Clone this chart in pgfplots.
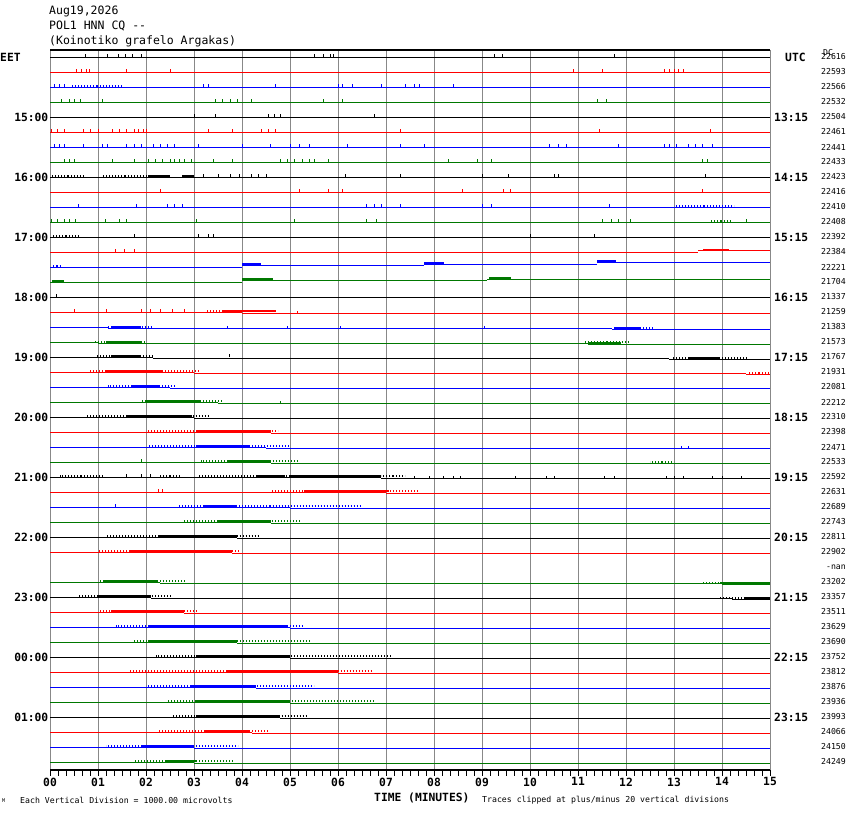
\documentclass[border=0pt]{standalone}
\usepackage{fontspec}
\setmainfont{DejaVu Sans Mono}
\usepackage{pgfplots}
\usepackage{pgfplotstable}
\pgfplotsset{compat=1.18}

\definecolor{hred}{RGB}{255,0,0}
\definecolor{hblue}{RGB}{0,0,255}
\definecolor{hgreen}{RGB}{0,120,0}
\definecolor{hgrid}{RGB}{136,136,136}

\newcommand\lab{\fontsize{11.3}{13}\selectfont\bfseries}
\newcommand\ttl{\fontsize{11.5}{13}\selectfont}
\newcommand\sml{\fontsize{8.2}{10}\selectfont}

% horizontal segments: k a b  (trace, from minute, to minute)
\newcommand\band[4]{\addplot[draw=none, mark=none, forget plot,
  error bars/.cd, x dir=both, x explicit, error mark=none,
  error bar style={draw=#1, #2}]
  table[x expr={(\thisrow{a}+\thisrow{b})/2}, y expr={\thisrow{k}-#3},
        x error expr={(\thisrow{b}-\thisrow{a})/2}] {#4};}
% single spikes: k x
\newcommand\spikes[2]{\addplot[draw=none, mark=none, forget plot,
  error bars/.cd, y dir=minus, y fixed=0.17, error mark=none,
  error bar style={draw=#1, line width=1pt}] table[x=x, y=k] {#2};}

%---------------- black traces
\pgfplotstableread{
k a b
0 0 15
4 0 15
8 0 15
12 0 15
16 0 15
20 0 2.15
20.08 2.15 12.9
20.16 12.9 15
24 0 3.0
24.08 3.0 15
28 0 6.9
28.08 6.9 15
32 0 3.9
32.08 3.9 15
36 0 2.1
36.08 2.1 14.2
36.14 14.2 15
40 0 5.0
40.08 5.0 15
44 0 4.8
44.08 4.8 15
}\kbase
\pgfplotstableread{
k a b
8 0.04 0.7
8 1.07 2.05
12 0.04 0.63
20 0.97 2.15
20.16 12.95 14.55
24 0.78 3.3
28 0.2 1.1
28 2.3 2.7
28 3.1 5.0
28 6.9 7.4
32 1.17 4.36
36 0.58 2.55
36.14 13.95 15
40 2.2 7.1
44 2.55 5.35
}\ksparse
\pgfplotstableread{
k a b
8 2.05 2.5
8 2.75 3.0
20 1.27 1.9
20.16 13.3 13.95
24 1.6 2.95
28 4.3 4.9
28 5.0 6.9
32 2.25 3.9
36 0.97 2.1
36.14 14.45 15
40 3.04 5.0
44 3.04 4.8
}\kdense
\pgfplotstableread{
k x
0 0.73
0 1.2
0 1.42
0 1.57
0 1.72
0 1.9
0 5.5
0 5.7
0 5.85
0 5.9
0 9.25
0 9.42
0 11.75
4 3.0
4 3.45
4 4.56
4 4.68
4 4.8
4 6.75
8 3.2
8 3.5
8 3.75
8 3.95
8 4.2
8 4.35
8 4.5
8 6.15
8 7.3
8 9.0
8 9.55
8 10.5
8 10.6
8 13.65
12 1.75
12 3.1
12 3.3
12 3.4
12 10.0
12 11.35
16 0.14
20 3.73
28.08 7.6
28.08 7.9
28.08 8.2
28.08 8.4
28.08 8.55
28.08 9.7
28.08 10.35
28.08 10.5
28.08 11.55
28.08 11.75
28.08 12.85
28.08 13.0
28.08 13.2
28.08 13.8
28.08 14.0
28.08 14.4
28 1.6
28 1.9
28 2.1
}\kspk

%---------------- red traces
\pgfplotstableread{
k a b
1 0 15
5 0 15
9 0 15
13 0 13.5
12.93 13.5 15
17 0 4.0
17.1 4.0 15
21 0 3.0
21.08 3.0 14.5
21.15 14.5 15
25 0 4.6
25.1 4.6 15
29 0 7.0
29.08 7.0 15
33 0 3.8
33.08 3.8 15
37 0 2.8
37.08 2.8 15
41 0 6.0
41.08 6.0 15
45 0 4.2
45.08 4.2 15
}\rbase
\pgfplotstableread{
k a b
17 3.25 4.7
21 0.83 3.1
21.15 14.55 15
25 2.0 4.75
29 4.6 7.7
33 1.0 3.97
37 1.0 3.1
41 1.66 6.7
45 2.25 4.56
}\rsparse
\pgfplotstableread{
k a b
12.93 13.6 14.15
17 3.6 4.7
21 1.17 2.35
25 3.04 4.6
29 5.3 7.07
33 1.66 3.8
37 1.27 2.8
41 3.68 6.0
45 3.2 4.17
}\rdense
\pgfplotstableread{
k x
1 0.56
1 0.65
1 0.75
1 0.83
1 1.6
1 2.5
1 10.9
1 11.5
1 12.8
1 12.9
1 13.0
1 13.1
1 13.2
5 0.04
5 0.15
5 0.3
5 0.7
5 0.85
5 1.0
5 1.3
5 1.45
5 1.6
5 1.75
5 1.85
5 1.95
5 2.0
5 3.3
5 3.8
5 4.4
5 4.55
5 4.7
5 7.3
5 11.45
5 13.75
9 2.3
9 5.2
9 5.8
9 6.1
9 8.6
9 9.45
9 9.6
9 13.6
13 1.37
13 1.55
13 1.76
17 0.5
17 1.17
17 1.9
17 2.1
17 2.3
17 2.55
17 2.8
17.1 5.15
29 2.25
29 2.35
}\rspk

%---------------- blue traces
\pgfplotstableread{
k a b
2 0 15
6 0 15
10 0 15
14 0 4.0
13.9 4.0 7.8
13.8 7.8 11.4
13.7 11.4 15
18 0 1.2
18.08 1.2 11.7
18.15 11.7 15
22 0 2.5
22.08 2.5 15
26 0 4.5
26.08 4.5 15
30 0 5.0
30.08 5.0 15
38 0 5.0
38.08 5.0 15
42 0 4.3
42.08 4.3 15
46 0 3.0
46.08 3.0 15
}\bbase
\pgfplotstableread{
k a b
2 0.45 1.5
10 13.0 14.25
14 0.04 0.24
18.08 1.17 2.15
18.15 11.75 12.6
22 1.2 2.6
26 2.05 5.0
30 2.65 6.5
38 1.37 5.25
42 2.0 5.5
46 1.17 3.92
}\bsparse
\pgfplotstableread{
k a b
13.9 4.0 4.4
13.8 7.8 8.2
13.7 11.4 11.8
18.08 1.3 1.9
18.15 11.75 12.3
22 1.7 2.3
26 3.04 4.17
30 3.2 3.9
38 2.05 4.95
42 2.94 4.3
46 1.9 3.0
}\bdense
\pgfplotstableread{
k x
2 0.1
2 0.2
2 0.3
2 3.2
2 3.3
2 4.7
2 6.0
2 6.1
2 6.3
2 6.9
2 7.4
2 7.6
2 7.7
2 8.4
6 0.1
6 0.2
6 0.3
6 0.7
6 1.1
6 1.2
6 1.6
6 1.75
6 1.9
6 2.15
6 2.3
6 2.45
6 2.6
6 3.1
6 4.0
6 4.6
6 5.0
6 5.2
6 5.4
6 6.2
6 7.3
6 7.8
6 10.4
6 10.6
6 10.75
6 11.85
6 12.8
6 12.9
6 13.05
6 13.3
6 13.45
6 13.6
6 13.8
10 0.6
10 1.8
10 2.45
10 2.6
10 2.75
10 6.6
10 6.75
10 6.9
10 7.3
10 9.0
10 9.2
10 11.65
18.08 3.7
18.08 4.95
18.08 6.05
18.08 9.05
26.08 13.15
26.08 13.3
30 1.37
}\bspk

%---------------- green traces
\pgfplotstableread{
k a b
3 0 15
7 0 15
11 0 15
15 0 4.0
14.9 4.0 9.1
14.8 9.1 15
19 0 1.0
19.08 1.0 11.2
19.15 11.2 15
23 0 3.5
23.08 3.5 15
27 0 4.6
27.08 4.6 15
31 0 4.6
31.08 4.6 15
35 0 2.3
35.08 2.3 14.0
35.14 14.0 15
39 0 3.9
39.08 3.9 15
43 0 5.0
43.08 5.0 15
47 0 3.0
47.08 3.0 15
}\gbase
\pgfplotstableread{
k a b
11 13.75 14.2
19.08 0.92 2.0
19.08 11.15 12.05
23 1.9 3.6
27 3.14 5.15
27.08 12.5 13.0
31 2.8 5.2
35 1.0 2.85
35.14 13.6 15
39 1.76 5.4
43 2.45 6.77
47 1.76 3.83
}\gsparse
\pgfplotstableread{
k a b
15 0.04 0.3
14.9 4.0 4.65
14.8 9.15 9.6
19.08 1.17 1.9
19.15 11.2 11.9
23 2.0 3.15
27 3.68 4.6
31 3.5 4.6
35 1.12 2.25
35.14 13.95 15
39 2.05 3.92
43 3.04 5.0
47 2.4 3.04
}\gdense
\pgfplotstableread{
k x
3 0.24
3 0.4
3 0.5
3 0.63
3 1.1
3 3.45
3 3.6
3 3.75
3 3.9
3 4.2
3 5.7
3 6.1
3 11.4
3 11.6
7 0.3
7 0.4
7 0.5
7 1.3
7 1.75
7 2.05
7 2.2
7 2.35
7 2.5
7 2.6
7 2.7
7 2.8
7 2.95
7 3.4
7 3.8
7 4.8
7 4.95
7 5.1
7 5.25
7 5.4
7 5.5
7 5.8
7 8.3
7 8.9
7 9.2
7 13.6
7 13.7
11 0.04
11 0.15
11 0.3
11 0.4
11 0.53
11 1.15
11 1.45
11 1.6
11 3.05
11 5.1
11 6.6
11 6.8
11 11.5
11 11.7
11 11.85
11 12.1
11 14.5
23.08 4.8
27 1.9
}\gspk

\begin{document}
\begin{tikzpicture}[x=1pt, y=1pt]
\path[use as bounding box] (0,0) rectangle (850,814);
\begin{axis}[
  at={(50pt,44pt)}, anchor=south west,
  width=720pt, height=720pt, scale only axis,
  xmin=0, xmax=15, ymin=-0.4667, ymax=47.5333, y dir=reverse,
  xtick={0,...,15},
  xticklabels={00,01,02,03,04,05,06,07,08,09,10,11,12,13,14,15},
  minor x tick num=5,
  ytick=\empty,
  xtick pos=left, tick align=outside,
  major tick length=5.5pt, minor tick length=5.5pt,
  tick style={black, line width=0.8pt},
  xmajorgrids, major grid style={hgrid, line width=1pt},
  separate axis lines,
  x axis line style={black, line width=1.3pt},
  y axis line style={draw=none},
  xticklabel style={font=\lab, inner sep=0pt, yshift=-2pt},
]
\band{black}{line width=1pt}{0}{\kbase}
\band{hred}{line width=1pt}{0}{\rbase}
\band{hblue}{line width=1pt}{0}{\bbase}
\band{hgreen}{line width=1pt}{0}{\gbase}

\band{black}{line width=2pt, dash pattern=on 0.8pt off 2.2pt}{0.1}{\ksparse}
\band{hred}{line width=2pt, dash pattern=on 0.8pt off 2.2pt}{0.1}{\rsparse}
\band{hblue}{line width=2pt, dash pattern=on 0.8pt off 2.2pt}{0.1}{\bsparse}
\band{hgreen}{line width=2pt, dash pattern=on 0.8pt off 2.2pt}{0.1}{\gsparse}

\band{black}{line width=1.8pt}{0.09}{\kdense}
\band{hred}{line width=1.8pt}{0.09}{\rdense}
\band{hblue}{line width=1.8pt}{0.09}{\bdense}
\band{hgreen}{line width=1.8pt}{0.09}{\gdense}

\spikes{black}{\kspk}
\spikes{hred}{\rspk}
\spikes{hblue}{\bspk}
\spikes{hgreen}{\gspk}
\end{axis}

% header
\node[anchor=base west, inner sep=0, font=\ttl] at (49,799) {Aug19,2026};
\node[anchor=base west, inner sep=0, font=\ttl] at (49,784) {POL1 HNN CQ -{}-};
\node[anchor=base west, inner sep=0, font=\ttl] at (49,769) {(Koinotiko grafelo Argakas)};

% time zones
\node[anchor=west, inner sep=0, font=\lab] at (0,757) {EET};
\node[anchor=west, inner sep=0, font=\lab] at (785,757) {UTC};
\node[anchor=west, inner sep=0, font=\sml] at (823,761) {DC};
\foreach \k/\t in {4/15:00,8/16:00,12/17:00,16/18:00,20/19:00,24/20:00,
                   28/21:00,32/22:00,36/23:00,40/00:00,44/01:00}
  \node[anchor=east, inner sep=0, font=\lab] at (48.5,757-15*\k) {\t};
\foreach \k/\t in {4/13:15,8/14:15,12/15:15,16/16:15,20/17:15,24/18:15,
                   28/19:15,32/20:15,36/21:15,40/22:15,44/23:15}
  \node[anchor=west, inner sep=0, font=\lab] at (774,757-15*\k) {\t};
\foreach \k/\v in {0/22616,1/22593,2/22566,3/22532,4/22504,5/22461,6/22441,
  7/22433,8/22423,9/22416,10/22410,11/22408,12/22392,13/22384,14/22221,
  15/21704,16/21337,17/21259,18/21383,19/21573,20/21767,21/21931,22/22081,
  23/22212,24/22310,25/22398,26/22471,27/22533,28/22592,29/22631,30/22689,
  31/22743,32/22811,33/22902,34/-nan,35/23202,36/23357,37/23511,38/23629,
  39/23690,40/23752,41/23812,42/23876,43/23936,44/23993,45/24066,46/24150,
  47/24249}
  \node[anchor=east, inner sep=0, font=\sml] at (846,757-15*\k) {\v};

% footer
\node[anchor=west, inner sep=0, font=\fontsize{5}{6}\selectfont] at (2,13) {M};
\node[anchor=west, inner sep=0, font=\sml] at (20,14) {Each Vertical Division = 1000.00 microvolts};
\node[anchor=west, inner sep=0, font=\lab] at (374,16) {TIME (MINUTES)};
\node[anchor=west, inner sep=0, font=\sml] at (482,14) {Traces clipped at plus/minus 20 vertical divisions};
\end{tikzpicture}
\end{document}
